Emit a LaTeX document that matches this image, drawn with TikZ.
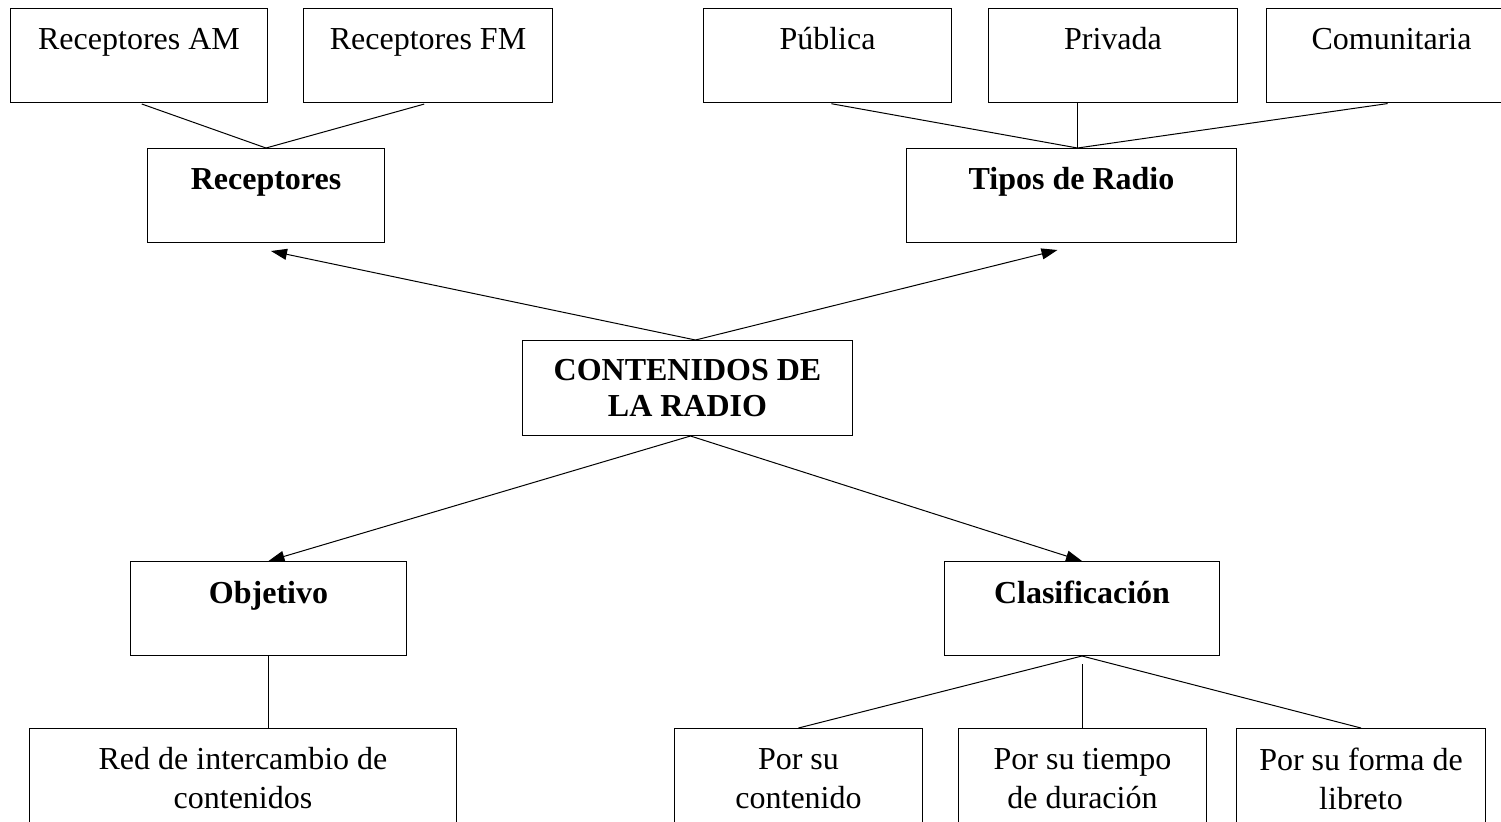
\documentclass[tikz,border=0pt]{standalone}
\usepackage{fontspec}
\setmainfont{Liberation Serif}
\usetikzlibrary{arrows.meta}

\begin{document}
\begin{tikzpicture}[x=0.5pt, y=-0.5pt,
    every node/.style={font=\fontsize{16}{18.4}\selectfont},
    box/.style={draw, line width=0.5pt, inner sep=0pt, anchor=north west, align=center, minimum height=47pt},
    onebox/.style={box, text height=20.5pt, text depth=26.5pt},
    lowbox/.style={box, minimum height=50pt, font=\fontsize{16}{19.5}\selectfont},
    link/.style={line width=0.5pt},
    arrowlink/.style={line width=0.5pt, -{Triangle[length=8pt, width=5.5pt]}}]
        \useasboundingbox (0,0) rectangle (1501,821);
        % Top row
        \node[onebox, minimum width=128.5pt] (am) at (10,8) {Receptores AM};
        \node[onebox, minimum width=124.5pt] (fm) at (303,8) {Receptores FM};
        \node[onebox, minimum width=124pt] (pub) at (703,8) {Pública};
        \node[onebox, minimum width=124.5pt] (pri) at (988,8) {Privada};
        \node[onebox, minimum width=125pt] (com) at (1266,8) {Comunitaria};
        % Second row
        \node[onebox, minimum width=118.5pt, font=\fontsize{16}{18.4}\selectfont\bfseries] (rec) at (147,148) {Receptores};
        \node[onebox, minimum width=165pt, font=\fontsize{16}{18.4}\selectfont\bfseries] (tip) at (906,148) {Tipos de Radio};
        % Centre
        \node[box, minimum width=165pt, minimum height=47.5pt, font=\fontsize{16}{18.4}\selectfont\bfseries] (cen) at (522,340) {CONTENIDOS DE\\LA RADIO};
        % Third row
        \node[onebox, minimum width=138pt, text depth=26pt, font=\fontsize{16}{18.4}\selectfont\bfseries] (obj) at (130,561) {Objetivo};
        \node[onebox, minimum width=137.5pt, text depth=26pt, font=\fontsize{16}{18.4}\selectfont\bfseries] (cla) at (944,561) {Clasificación};
        % Bottom row
        \node[lowbox, minimum width=213.5pt] (red) at (29,728) {Red de intercambio de\\contenidos};
        \node[lowbox, minimum width=124pt] (con) at (674,728) {Por su\\contenido};
        \node[lowbox, minimum width=124pt] (tie) at (958,728) {Por su tiempo\\de duración};
        \node[lowbox, minimum width=124.5pt] (for) at (1236,728) {Por su forma de\\libreto};
        % Links to the top row
        \draw[link, shorten <=1.5pt] (am.south) -- (rec.north);
        \draw[link, shorten <=2pt] (fm.south) -- (rec.north);
        \coordinate (tiptop) at ([xshift=3pt]tip.north);
        \draw[link, shorten <=2pt] (pub.south) -- (tiptop);
        \draw[link] (tiptop) -- (tiptop |- pri.south);
        \draw[link, shorten <=2pt] (com.south) -- (tiptop);
        % Arrows from the centre
        \coordinate (centop) at ([xshift=4pt]cen.north);
        \coordinate (cenbot) at ([xshift=1.5pt]cen.south);
        \draw[arrowlink] (centop) -- ([xshift=2.5pt, yshift=-4pt]rec.south);
        \draw[arrowlink] (centop) -- ([xshift=-7pt, yshift=-3.5pt]tip.south);
        \draw[arrowlink] (cenbot) -- (obj.north);
        \draw[arrowlink] (cenbot) -- (cla.north);
        % Links to the bottom row
        \draw[link] (obj.south) -- (obj.south |- red.north);
        \draw[link] (cla.south) -- (con.north);
        \draw[link] (tie.north) -- ([yshift=-4pt]tie.north |- cla.south);
        \draw[link] (cla.south) -- (for.north);
      \end{tikzpicture}
\end{document}
